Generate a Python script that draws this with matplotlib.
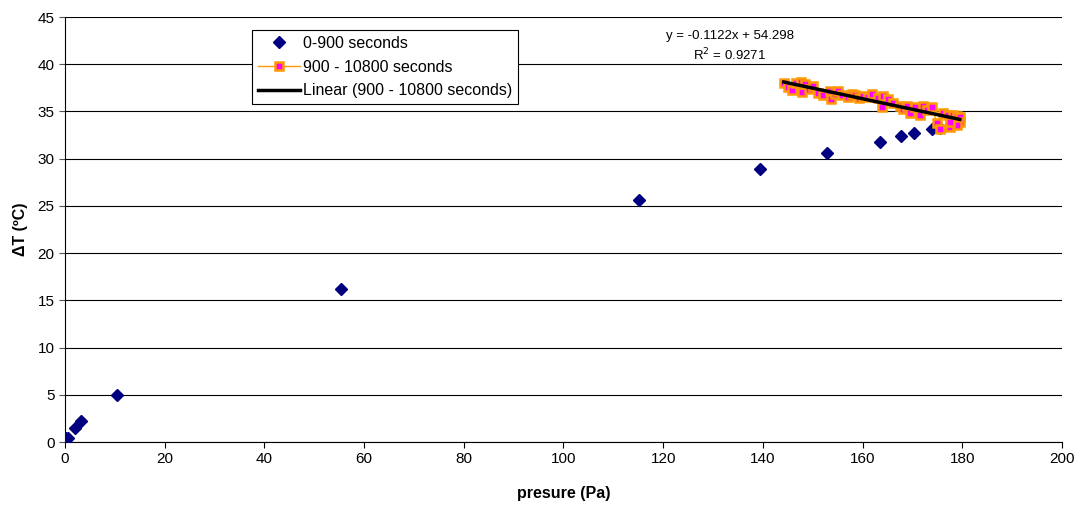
import matplotlib
matplotlib.use("Agg")
import matplotlib.pyplot as plt
import numpy as np

plt.rcParams['font.family'] = ['Liberation Sans', 'DejaVu Sans']

# 0-900 seconds series
p_early = [0.2, 0.5, 2.0, 3.3, 10.4, 55.4, 115.1, 139.4, 152.9, 163.5, 167.7, 170.3, 173.9, 175.5]
dt_early = [0.4, 0.4, 1.5, 2.2, 5.0, 16.2, 25.6, 28.9, 30.6, 31.8, 32.4, 32.7, 33.1, 33.3]

# 900 - 10800 seconds series
p_late = [144.2, 145.0, 145.8, 146.6, 147.6, 147.8, 148.4, 149.2, 150.1, 151.1, 152.1,
          153.5, 153.7, 154.4, 155.1, 155.9, 157.1, 157.8, 158.5, 159.3, 160.1, 161.0,
          161.9, 163.1, 163.9, 164.1, 165.1, 166.1, 167.5, 168.2, 168.9, 169.5, 170.5,
          171.5, 172.1, 173.0, 173.9, 174.9, 175.5, 176.1, 177.1, 177.5, 178.1, 178.9,
          179.5, 179.5, 178.9, 177.5]
dt_late = [38.0, 37.6, 37.3, 38.0, 38.1, 37.1, 37.9, 37.4, 37.7, 37.0, 36.7,
           37.2, 36.3, 36.9, 37.2, 36.7, 36.5, 36.9, 36.7, 36.4, 36.6, 36.5,
           36.8, 36.4, 35.5, 36.6, 36.3, 35.9, 35.6, 35.3, 35.6, 34.8, 35.5,
           34.6, 35.6, 35.2, 35.5, 33.8, 33.1, 34.8, 34.6, 33.4, 34.6, 34.5,
           34.4, 33.9, 33.6, 33.9]

slope, intercept = -0.1122, 54.298
fit_x = [min(p_late), max(p_late)]

fig = plt.figure(figsize=(10.8, 5.09), dpi=100)
ax = fig.add_axes([0.0602, 0.1316, 0.9231, 0.835])

ax.plot(p_early, dt_early, linestyle='none', marker='D', markersize=6,
        color='#000080', label='0-900 seconds', zorder=3)
ax.plot(p_late, dt_late, linestyle='-', linewidth=1, color='#FF9900',
        marker='s', markersize=5.5, markerfacecolor='#FF00FF',
        markeredgecolor='#FF9900', markeredgewidth=1.8,
        label='900 - 10800 seconds', zorder=4)
fx = np.array(fit_x)
ax.plot(fx, slope * fx + intercept, color='black', linewidth=2.5,
        label='Linear (900 - 10800 seconds)', zorder=5)

ax.set_xlim(0, 200)
ax.set_ylim(0, 45)
ax.set_xticks(range(0, 201, 20))
ax.set_yticks(range(0, 46, 5))
ax.tick_params(axis='both', labelsize=11, direction='out', length=4, width=0.8)
ax.tick_params(axis='y', colors='#555555', labelcolor='black')

ax.grid(axis='y', color='black', linewidth=0.8)
ax.set_axisbelow(True)
ax.spines['right'].set_visible(False)
ax.spines['top'].set_visible(False)
ax.spines['left'].set_color('black')
ax.spines['bottom'].set_color('black')

ax.set_xlabel('presure (Pa)', fontsize=11.5, fontweight='bold', labelpad=14)
ax.set_ylabel('ΔT (ºC)', fontsize=11.5, fontweight='bold', labelpad=7)

ax.text(0.667, 0.97, 'y = -0.1122x + 54.298\nR$^2$ = 0.9271', transform=ax.transAxes,
        ha='center', va='top', fontsize=9.5, linespacing=1.35)

leg = ax.legend(loc='upper left', bbox_to_anchor=(0.188, 0.969), fontsize=11.5,
                frameon=True, fancybox=False, edgecolor='black', framealpha=1,
                borderpad=0.35, labelspacing=0.55, handlelength=2.6, handletextpad=0.2,
                borderaxespad=0)
leg.get_frame().set_linewidth(0.8)

fig.savefig('out.png', dpi=100)
